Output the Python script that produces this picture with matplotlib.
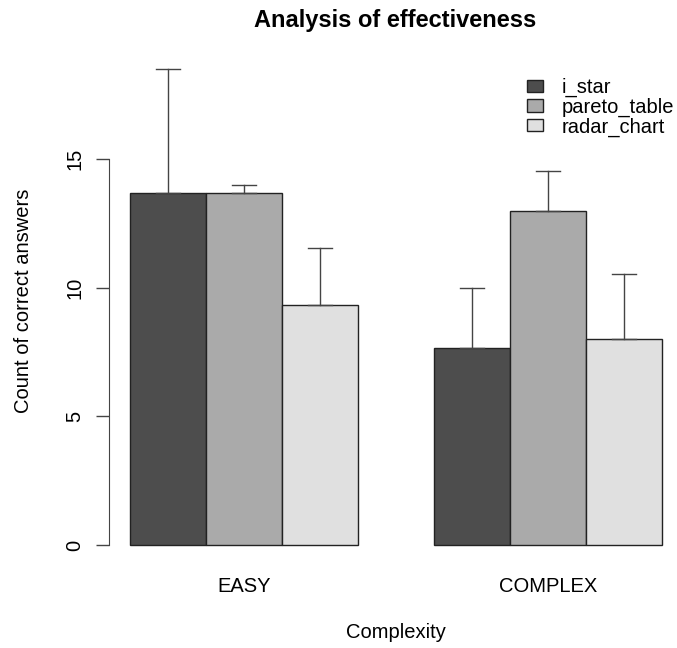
import numpy as np
import matplotlib
matplotlib.use("Agg")
import matplotlib.pyplot as plt
from matplotlib.patches import Patch

plt.rcParams['font.family'] = ['Liberation Sans', 'DejaVu Sans']

# data
groups = ["EASY", "COMPLEX"]
series = ["i_star", "pareto_table", "radar_chart"]
means = {
    "i_star": [13.67, 7.67],
    "pareto_table": [13.67, 13.0],
    "radar_chart": [9.33, 8.0],
}
upper = {
    "i_star": [18.5, 10.0],
    "pareto_table": [14.0, 14.53],
    "radar_chart": [11.53, 10.53],
}
colors = ["#4d4d4d", "#aaaaaa", "#e0e0e0"]

W, H = 677, 648
FS = 14.5
fig = plt.figure(figsize=(W / 100, H / 100), dpi=100)
# axes box in pixels: left 108.7, right 677, top 60, bottom 560
ax = fig.add_axes([108.7 / W, 1 - 560 / H, (677 - 108.7) / W, 500 / H])

# R barplot style positions: width 1, one gap between groups
for i, s in enumerate(series):
    x = np.array([1.5 + i, 5.5 + i])
    ax.bar(x, means[s], width=1.0, color=colors[i], edgecolor="#222222", linewidth=1)
    for xi, m, u in zip(x, means[s], upper[s]):
        ax.plot([xi, xi], [m, u], color="#444444", lw=1)
        ax.plot([xi - 0.16, xi + 0.16], [u, u], color="#444444", lw=1)
        ax.plot([xi - 0.16, xi + 0.16], [m, m], color="#444444", lw=1)

ax.set_xlim(0.72, 0.72 + (677 - 108.7) / 76.0)
ax.set_ylim((545 - 560) / 25.73, (545 - 60) / 25.73)

for sp in ["top", "right", "bottom"]:
    ax.spines[sp].set_visible(False)
ax.spines["left"].set_bounds(0, 15)
ax.spines["left"].set_color("#444444")
ax.set_yticks([0, 5, 10, 15])
ax.set_yticklabels(["0", "5", "10", "15"], rotation=90, va="center", fontsize=FS)
ax.tick_params(axis="y", length=9.5, width=1, color="#444444", pad=8)

ax.set_xticks([2.5, 6.5])
ax.set_xticklabels(groups, fontsize=FS)
ax.tick_params(axis="x", length=0, pad=12)

fig.text(24 / W, 1 - 301 / H, "Count of correct answers", rotation=90,
         ha="center", va="center", fontsize=FS)
fig.text(396 / W, 1 - 632 / H, "Complexity", ha="center", va="center", fontsize=FS)
fig.text(395 / W, 1 - 20 / H, "Analysis of effectiveness", ha="center", va="center",
         fontsize=17, fontweight="bold")

handles = [Patch(facecolor=c, edgecolor="#222222", label=s) for s, c in zip(series, colors)]
ax.legend(handles=handles, loc="upper left",
          bbox_to_anchor=((527 - 108.7) / (677 - 108.7), 1 - (78 - 60) / 500),
          frameon=False, fontsize=FS, handlelength=0.8, handleheight=0.55,
          labelspacing=0.02, handletextpad=0.9, borderaxespad=0, borderpad=0)

fig.savefig("out.png", dpi=100)
